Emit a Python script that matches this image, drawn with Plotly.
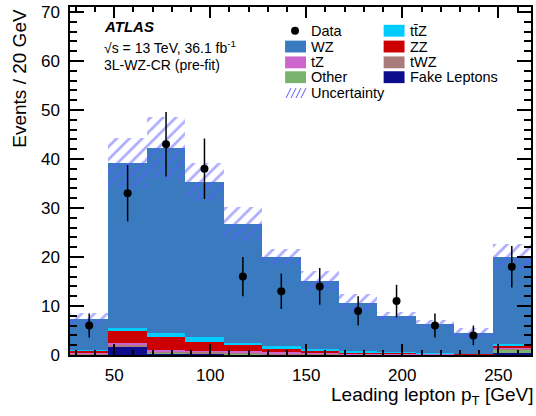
import plotly.graph_objects as go
import numpy as np

# leading lepton pT bins (20 GeV wide, last bin includes overflow)
bin_centers = [37, 57, 77, 97, 117, 137, 157, 177, 197, 217, 237, 257]
bin_width = 20

# pre-fit background yields, stacked bottom -> top
fake = [0.10, 1.70, 0.30, 0.25, 0.15, 0.05, 0.05, 0.02, 0.05, 0.00, 0.00, 0.50]
other = [0.10, 0.10, 0.15, 0.15, 0.15, 0.15, 0.10, 0.05, 0.05, 0.05, 0.03, 0.60]
twz = [0.15, 0.30, 0.35, 0.30, 0.25, 0.20, 0.15, 0.12, 0.10, 0.10, 0.06, 0.20]
tz = [0.10, 0.35, 0.30, 0.20, 0.20, 0.15, 0.15, 0.10, 0.10, 0.07, 0.05, 0.15]
zz = [0.45, 2.40, 2.50, 1.80, 1.20, 0.70, 0.40, 0.25, 0.20, 0.15, 0.08, 0.55]
ttz = [0.05, 0.60, 0.95, 1.00, 0.60, 0.55, 0.40, 0.20, 0.10, 0.10, 0.05, 0.20]
wz = [6.35, 33.75, 37.75, 31.6, 24.15, 18.2, 13.85, 9.95, 7.3, 5.95, 4.15, 17.8]

# total uncertainty on the prediction
unc = [1.2, 5.1, 6.3, 3.8, 3.5, 1.6, 2.0, 1.8, 0.8, 0.8, 1.0, 2.6]

data = [6, 33, 43, 38, 16, 13, 14, 9, 11, 6, 4, 18]

samples = [
    ("Fake Leptons", fake, "#0c0c8c"),
    ("Other", other, "#7ab36e"),
    ("tWZ", twz, "#aa7b7b"),
    ("tZ", tz, "#cc66cc"),
    ("ZZ", zz, "#cc0000"),
    ("tt\u0304Z", ttz, "#00ccff"),
    ("WZ", wz, "#3a7bc0"),
]
hatch = "#5a5aff"

fig = go.Figure()

base = np.zeros(len(bin_centers))
for name, vals, col in samples:
    fig.add_trace(go.Bar(
        x=bin_centers, y=vals, base=base.copy(), width=bin_width, name=name,
        marker=dict(color=col, line=dict(width=0)), showlegend=False))
    base += np.array(vals)
total = base

unc = np.array(unc)
fig.add_trace(go.Bar(
    x=bin_centers, y=2 * unc, base=total - unc, width=bin_width, name="Uncertainty",
    marker=dict(color="rgba(0,0,0,0)", line=dict(width=0),
                pattern=dict(shape="/", fgcolor=hatch, bgcolor="rgba(0,0,0,0)",
                             size=9, solidity=0.3)),
    showlegend=False))

fig.add_trace(go.Scatter(
    x=bin_centers, y=data, mode="markers", name="Data",
    marker=dict(color="black", size=8),
    error_y=dict(type="data", array=np.sqrt(data), color="black", thickness=1.5, width=0),
    showlegend=False))

# pixel -> paper helpers (plot area 70..533 x 3..355)
L, R, T, B = 70, 533, 3, 355
def px(x):
    return (x - L) / (R - L)
def py(y):
    return (B - y) / (B - T)

shapes = []
annots = []
font = dict(family="Liberation Sans, Arial, sans-serif", color="black")

# legend, two columns
rows = [27, 43, 59, 74, 90]
entries = [
    (0, 0, "Data", None), (1, 0, "tt\u0304Z", "#00ccff"),
    (0, 1, "WZ", "#3a7bc0"), (1, 1, "ZZ", "#cc0000"),
    (0, 2, "tZ", "#cc66cc"), (1, 2, "tWZ", "#aa7b7b"),
    (0, 3, "Other", "#7ab36e"), (1, 3, "Fake Leptons", "#0c0c8c"),
    (0, 4, "Uncertainty", "hatch"),
]
colx = [286, 385]
for c, r, label, col in entries:
    x0 = colx[c]
    yc = rows[r]
    if col is None:
        shapes.append(dict(type="circle", xref="paper", yref="paper",
                           x0=px(x0 + 6), x1=px(x0 + 14), y0=py(yc + 4), y1=py(yc - 4),
                           fillcolor="black", line=dict(width=0)))
    elif col == "hatch":
        for k in range(4):
            xs = x0 + 1 + k * 5
            shapes.append(dict(type="line", xref="paper", yref="paper",
                               x0=px(xs), x1=px(xs + 5), y0=py(yc + 5), y1=py(yc - 5),
                               line=dict(color=hatch, width=1)))
    else:
        shapes.append(dict(type="rect", xref="paper", yref="paper",
                           x0=px(x0), x1=px(x0 + 21), y0=py(yc + 6), y1=py(yc - 6),
                           fillcolor=col, line=dict(width=0)))
    annots.append(dict(text=label, xref="paper", yref="paper", x=px(x0 + 24), y=py(yc),
                       xanchor="left", yanchor="middle", showarrow=False,
                       font=dict(size=14.5, **font)))

# ATLAS label
annots.append(dict(text="<b><i>ATLAS</i></b>", xref="paper", yref="paper", x=px(102), y=py(23),
                   xanchor="left", yanchor="middle", showarrow=False, font=dict(size=15, **font)))
annots.append(dict(text="\u221as = 13 TeV, 36.1 fb<sup>-1</sup>", xref="paper", yref="paper",
                   x=px(102), y=py(43), xanchor="left", yanchor="middle", showarrow=False,
                   font=dict(size=14, **font)))
annots.append(dict(text="3L-WZ-CR (pre-fit)", xref="paper", yref="paper", x=px(102), y=py(62),
                   xanchor="left", yanchor="middle", showarrow=False, font=dict(size=14, **font)))

# axis titles
annots.append(dict(text="Leading lepton p<sub>T</sub> [GeV]", xref="paper", yref="paper",
                   x=1, y=py(396), xanchor="right", yanchor="middle", showarrow=False,
                   xshift=5, font=dict(size=19, **font)))
annots.append(dict(text="Events / 20 GeV", xref="paper", yref="paper", x=px(19), y=1,
                   xanchor="center", yanchor="top", textangle=-90, showarrow=False,
                   font=dict(size=19, **font)))

axis_common = dict(showline=True, linecolor="black", linewidth=1.5, mirror="allticks",
                   ticks="inside", tickcolor="black", tickwidth=1.5, showgrid=False,
                   zeroline=False, tickfont=dict(size=17, **font))

fig.update_xaxes(range=[27, 267], tick0=0, dtick=50, ticklen=11, ticklabelstandoff=4,
                 minor=dict(ticks="inside", dtick=10, ticklen=5, tickcolor="black",
                            tickwidth=1.5, showgrid=False),
                 **axis_common)
fig.update_yaxes(range=[0, 71], tick0=0, dtick=10, ticklen=14, ticklabelstandoff=5,
                 minor=dict(ticks="inside", dtick=2, ticklen=7, tickcolor="black",
                            tickwidth=1.5, showgrid=False),
                 **axis_common)

fig.update_layout(
    width=536, height=416,
    margin=dict(l=L, r=536 - R, t=T, b=416 - B),
    barmode="overlay", bargap=0,
    plot_bgcolor="white", paper_bgcolor="white",
    shapes=shapes, annotations=annots,
    font=font,
)

fig.write_html("out.html", config={"displayModeBar": False},
               post_script="document.body.style.margin='0';")
